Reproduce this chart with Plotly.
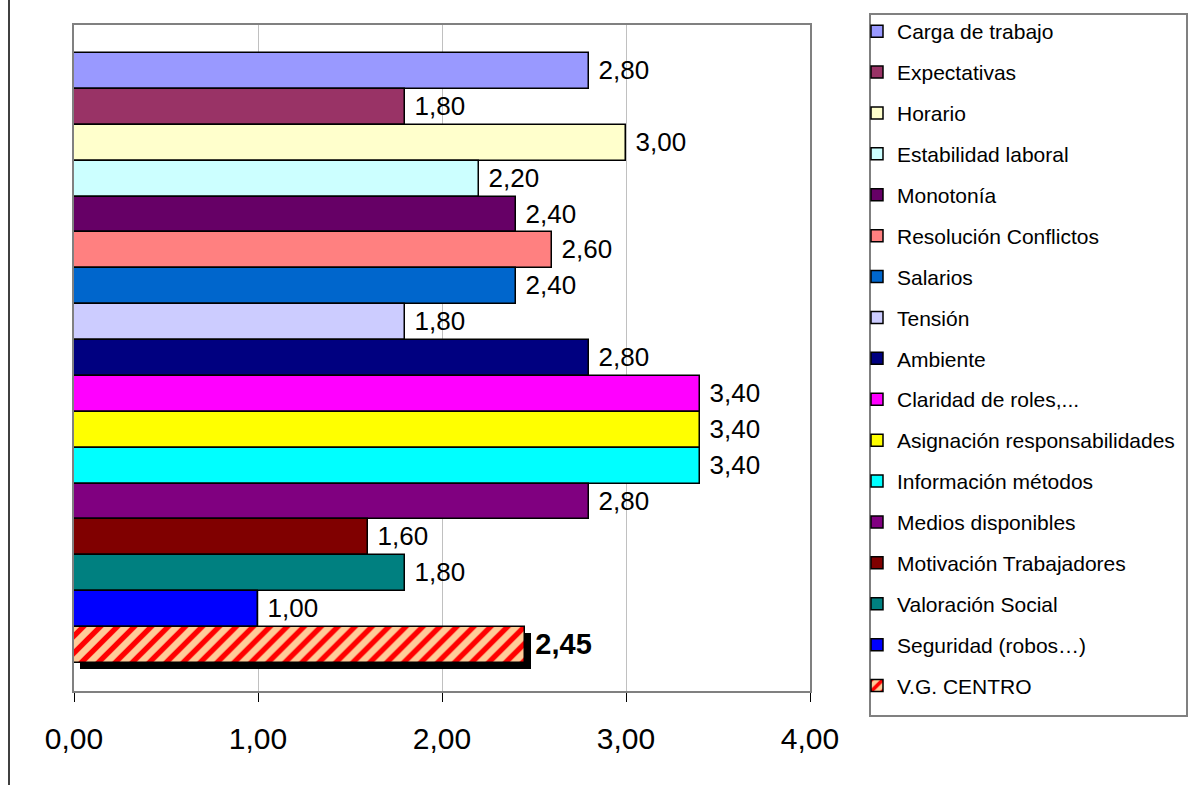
import plotly.graph_objects as go

categories = [
    "Carga de trabajo", "Expectativas", "Horario", "Estabilidad laboral",
    "Monotonía", "Resolución Conflictos", "Salarios", "Tensión", "Ambiente",
    "Claridad de roles,...", "Asignación responsabilidades", "Información métodos",
    "Medios disponibles", "Motivación Trabajadores", "Valoración Social",
    "Seguridad (robos…)", "V.G. CENTRO",
]
values = [2.80, 1.80, 3.00, 2.20, 2.40, 2.60, 2.40, 1.80, 2.80,
          3.40, 3.40, 3.40, 2.80, 1.60, 1.80, 1.00, 2.45]
colors = ["#9999FF", "#993366", "#FFFFCC", "#CCFFFF", "#660066", "#FF8080",
          "#0066CC", "#CCCCFF", "#000080", "#FF00FF", "#FFFF00", "#00FFFF",
          "#800080", "#800000", "#008080", "#0000FF", "#FFCC99"]
x_ticks = [0, 1, 2, 3, 4]

FONT = "Liberation Sans, Arial, sans-serif"
W, H = 1192, 785
L, R, T, B = 74, 810, 24, 691
pw, ph = R - L, B - T
n = len(categories)
unit_px = 611 / n
pad = 28 / unit_px


def px_x(p):
    return (p - L) / pw


def px_y(p):
    return (B - p) / ph


fig = go.Figure()

# shadow for overall bar
fig.add_trace(go.Bar(
    x=[values[-1]], y=[n - 1 + 6 / unit_px], base=[6 / (pw / 4)],
    orientation="h", width=1, marker=dict(color="black", line=dict(width=0)),
    showlegend=False, hoverinfo="skip", legendgroup="shadow",
))

for i, (cat, val, col) in enumerate(zip(categories, values, colors)):
    last = i == n - 1
    marker = dict(color=col, line=dict(color="black", width=1.5))
    if last:
        marker["pattern"] = dict(shape="/", fgcolor="#FF0000", bgcolor="#FFCC99",
                                 size=12, solidity=0.45, fillmode="replace")
    fig.add_trace(go.Bar(
        x=[val], y=[i], name=cat, orientation="h", width=1,
        marker=marker, legendgroup=cat,
        text=[val], texttemplate=(" %{x:.2f}" if not last else " <b>%{x:.2f}</b>"),
        textposition="outside", cliponaxis=False, constraintext="none",
        textfont=dict(family=FONT, size=29 if last else 26, color="black"),
    ))

fig.update_layout(
    width=W, height=H,
    margin=dict(l=L, r=W - R, t=T, b=H - B),
    paper_bgcolor="white", plot_bgcolor="white",
    separators=",.",
    barmode="overlay", bargap=0,
    font=dict(family=FONT, color="black"),
    showlegend=True,
    legend=dict(
        x=px_x(857), y=px_y(11), xanchor="left", yanchor="top",
        font=dict(family=FONT, size=21, color="black"),
        borderwidth=0, bgcolor="rgba(0,0,0,0)",
        traceorder="grouped", tracegroupgap=10.6, maxheight=780,
    ),
    xaxis=dict(
        range=[0, 4], tickvals=x_ticks, tickformat=".2f",
        showgrid=True, gridcolor="#C0C0C0", gridwidth=1,
        showline=True, linecolor="#808080", linewidth=2, mirror=True,
        ticks="outside", ticklen=9, tickcolor="black", tickwidth=1,
        tickfont=dict(family=FONT, size=30, color="black"),
        ticklabelstandoff=11, zeroline=False, fixedrange=True,
    ),
    yaxis=dict(
        range=[n - 0.5 + pad, -0.5 - pad],
        showticklabels=False, showgrid=False, zeroline=False,
        showline=True, linecolor="#808080", linewidth=2, mirror=True,
        ticks="", fixedrange=True,
    ),
    shapes=[
        dict(type="line", xref="paper", yref="paper",
             x0=px_x(9), x1=px_x(9), y0=px_y(H + 2), y1=px_y(-2),
             line=dict(color="#404040", width=2)),
        dict(type="rect", xref="paper", yref="paper", layer="below",
             x0=px_x(870), x1=px_x(1187), y0=px_y(716), y1=px_y(13),
             line=dict(color="#808080", width=2), fillcolor="white"),
    ],
)

fig.write_html("out.html", config={"displayModeBar": False},
               post_script="document.body.style.margin='0px';document.body.style.overflow='hidden';")
